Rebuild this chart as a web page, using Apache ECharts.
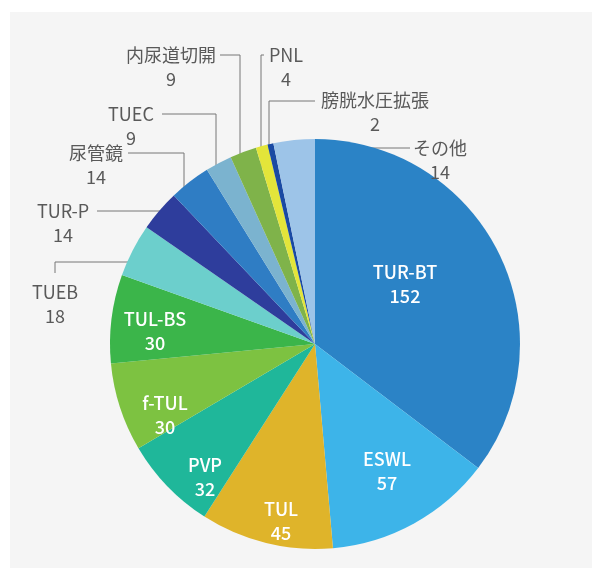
<!DOCTYPE html>
<html>
<head>
<meta charset="utf-8">
<script src="https://cdn.jsdelivr.net/npm/echarts@6/dist/echarts.min.js"></script>
<style>
  html, body { margin: 0; padding: 0; background: #fff; }
  .panel { position: absolute; left: 10px; top: 12px; width: 582px; height: 556px; background: #f5f5f5; }
  #chart { position: absolute; left: 0; top: 0; width: 592px; height: 568px; }
</style>
</head>
<body>
<div class="panel"></div>
<div id="chart"></div>
<script>
// 手術件数（時計回り、上から）
const names = ['TUR-BT', 'ESWL', 'TUL', 'PVP', 'f-TUL', 'TUL-BS', 'TUEB', 'TUR-P', '尿管鏡', 'TUEC', '内尿道切開', 'PNL', '膀胱水圧拡張', 'その他']
const counts = [152, 57, 45, 32, 30, 30, 18, 14, 14, 9, 9, 4, 2, 14]
const colors = ['#2b83c6', '#3db4e9', '#dfb42a', '#1fb79a', '#7dc241', '#3bb54a', '#6ccfcc', '#2e3d9c',
  '#2f7dc4', '#7bb3cf', '#7fb34a', '#e3e53a', '#1a4aa3', '#9dc4e8']
const insideCount = 6 // 先頭6件はスライス内にラベル

// ラベル位置（ブロック中心）
const labelPos = [
  [405, 284], [387, 471], [281, 521], [205, 477], [165, 415], [155, 331],
  [55, 304], [63, 223], [96, 165], [131, 126], [171, 67], [286, 67], [375, 112], [440, 160]
]
// 引出線
const linePts = {
  6: [[135, 262], [55, 262], [55, 273]],
  7: [[162, 211], [97, 211]],
  8: [[184, 207], [184, 153], [128, 153]],
  9: [[216, 188], [216, 114], [162, 114]],
  10: [[240, 172], [240, 55], [220, 55]],
  11: [[261, 167], [261, 55], [264, 55]],
  12: [[269, 166], [269, 101], [315, 101]],
  13: [[297, 162], [297, 148], [410, 148]]
}

const chart = echarts.init(document.getElementById('chart'))

const pieData = names.map((n, i) => {
  const inside = i < insideCount
  return {
    name: n,
    value: counts[i],
    itemStyle: { color: colors[i] },
    label: inside
      ? { position: 'inside', color: '#fff', fontWeight: 500 }
      : { position: 'outside', color: '#595959', fontWeight: 'normal' },
    labelLine: { show: !inside }
  }
})

chart.setOption({
  backgroundColor: 'transparent',
  animation: false,
  series: [
    {
      type: 'pie',
      center: [315, 344],
      radius: 205,
      startAngle: 90,
      clockwise: true,
      avoidLabelOverlap: false,
      label: {
        show: true,
        formatter: '{b}\n{c}',
        fontFamily: '"Noto Sans CJK JP", "Noto Sans", sans-serif',
        fontSize: 18,
        lineHeight: 24,
        align: 'center'
      },
      labelLine: {
        show: true,
        lineStyle: { color: '#777', width: 1 }
      },
      labelLayout: (p) => {
        const i = p.dataIndex
        const res = {
          x: labelPos[i][0],
          y: labelPos[i][1],
          align: 'center',
          verticalAlign: 'middle'
        }
        if (linePts[i]) res.labelLinePoints = linePts[i]
        return res
      },
      data: pieData
    }
  ]
})
</script>
</body>
</html>
